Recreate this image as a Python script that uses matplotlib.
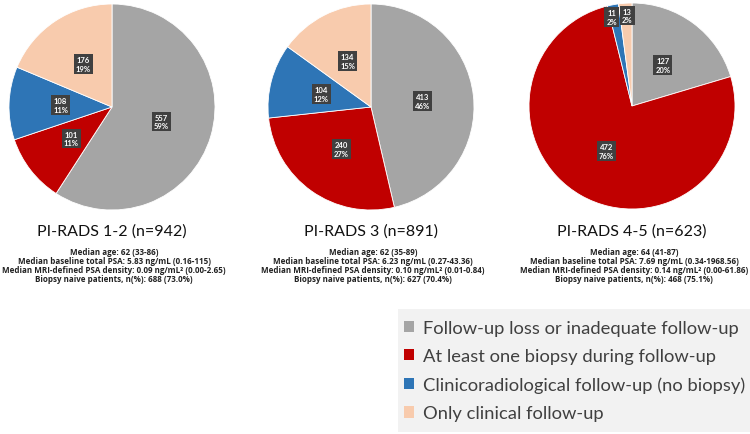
import matplotlib
matplotlib.use("Agg")
import matplotlib.pyplot as plt
from matplotlib.patches import Patch
from matplotlib.transforms import offset_copy

plt.rcParams["font.family"] = ["Lato", "DejaVu Sans"]

# categories in clockwise order from 12 o'clock
categories = [
    "Follow-up loss or inadequate follow-up",
    "At least one biopsy during follow-up",
    "Clinicoradiological follow-up (no biopsy)",
    "Only clinical follow-up",
]
colors = ["#a5a5a5", "#c00000", "#2e75b6", "#f8cbad"]

titles = ["PI-RADS 1-2 (n=942)", "PI-RADS 3 (n=891)", "PI-RADS 4-5 (n=623)"]
counts_pirads12 = [557, 101, 108, 176]
counts_pirads3 = [413, 240, 104, 134]
counts_pirads45 = [127, 472, 11, 13]
all_counts = [counts_pirads12, counts_pirads3, counts_pirads45]

stats = [
    ["Median age: 62 (33-86)",
     "Median baseline total PSA: 5.83 ng/mL (0.16-115)",
     "Median MRI-defined PSA density: 0.09 ng/mL\u00b2 (0.00-2.65)",
     "Biopsy naive patients, n(%): 688 (73.0%)"],
    ["Median age: 62 (35-89)",
     "Median baseline total PSA: 6.23 ng/mL (0.27-43.36)",
     "Median MRI-defined PSA density: 0.10 ng/mL\u00b2 (0.01-0.84)",
     "Biopsy naive patients, n(%): 627 (70.4%)"],
    ["Median age: 64 (41-87)",
     "Median baseline total PSA: 7.69 ng/mL (0.34-1968.56)",
     "Median MRI-defined PSA density: 0.14 ng/mL\u00b2 (0.00-61.86)",
     "Biopsy naive patients, n(%): 468 (75.1%)"],
]

W, H = 750, 435
fig = plt.figure(figsize=(W / 100, H / 100), dpi=100)

# pie centres / radius in pixels
centres = [(112, 108), (371, 108), (632, 107)]
R = 103

for (cx, cy), counts, title, lines in zip(centres, all_counts, titles, stats):
    ax = fig.add_axes([(cx - R) / W, (H - cy - R) / H, 2 * R / W, 2 * R / H])
    total = sum(counts)
    labels = [f"{c}\n{round(100 * c / total)}%" for c in counts]
    wedges, texts = ax.pie(counts, colors=colors, startangle=90, counterclock=False,
                           labels=labels, labeldistance=0.5,
                           wedgeprops=dict(edgecolor="white", linewidth=0.6))
    small = 0
    for t, c in zip(texts, counts):
        t.set_fontsize(5.5)
        t.set_fontweight("bold")
        t.set_color("white")
        t.set_ha("center")
        t.set_linespacing(1.3)
        t.set_bbox(dict(boxstyle="square,pad=0.25", fc="#404040", ec="none"))
        if c / total < 0.05:
            # small slices: label near the rim, nudged apart
            x, y = t.get_position()
            t.set_position((x * 1.76, y * 1.76))
            shift = -2.5 if small == 0 else 1.0
            t.set_transform(offset_copy(ax.transData, fig=fig, x=shift, y=0, units="points"))
            small += 1
    ax.set_xlim(-1, 1)
    ax.set_ylim(-1, 1)
    ax.axis("off")

    fig.text(cx / W, 1 - 232 / H, title, ha="center", va="center", fontsize=11.5, color="#111111")
    for i, line in enumerate(lines):
        fig.text((cx + 2) / W, 1 - (252.5 + 9 * i) / H, line, ha="center", va="center",
                 fontsize=5.8, fontweight="bold", color="#222222",
                 family=["Open Sans", "DejaVu Sans"])

# legend panel
lax = fig.add_axes([398 / W, 2 / H, 352 / W, (H - 310 - 2) / H])
lax.set_facecolor("#f2f2f2")
for s in lax.spines.values():
    s.set_visible(False)
lax.set_xticks([])
lax.set_yticks([])
handles = [Patch(facecolor=c, edgecolor="none") for c in colors]
lax.legend(handles, categories, loc="center left", bbox_to_anchor=(0.0, 0.5),
           frameon=False, fontsize=13.2,
           handlelength=0.55, handleheight=0.55, handletextpad=0.45, labelspacing=0.68,
           borderaxespad=0.0, borderpad=0.35, labelcolor="#404040")

fig.savefig("out.png", dpi=100, facecolor="white")
